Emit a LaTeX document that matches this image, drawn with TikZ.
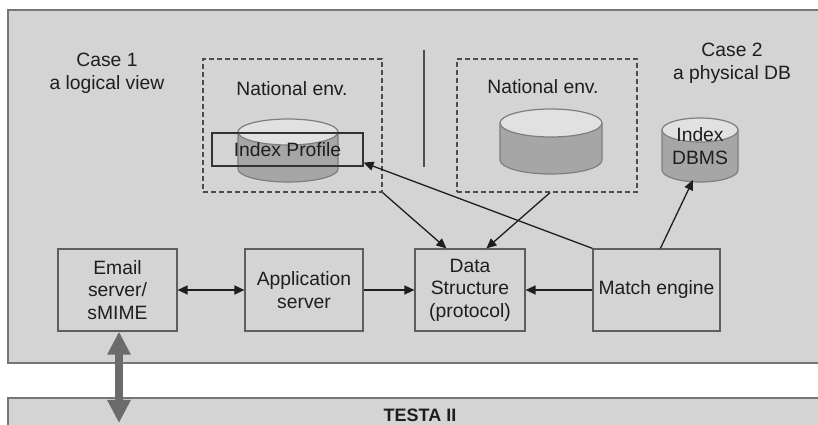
\documentclass[tikz,border=0pt]{standalone}
\usepackage{fontspec}
\setmainfont{Liberation Sans}
\usetikzlibrary{arrows.meta,calc}
\definecolor{bgfill}{HTML}{D4D4D4}
\definecolor{framec}{HTML}{767676}
\definecolor{boxc}{HTML}{5E5E5E}
\definecolor{txtc}{HTML}{1E1E1E}
\definecolor{cylside}{HTML}{A6A6A6}
\definecolor{cyltop}{HTML}{E1E1E1}
\definecolor{cylline}{HTML}{7E7E7E}
\definecolor{bigarrow}{HTML}{6B6B6B}
\newcommand{\mycyl}[5]{% cx, ytop, ybottom, rx, ry
  \fill[cylside] (#1-#4,#2) -- (#1-#4,#3) arc[start angle=180,end angle=360,x radius=#4pt,y radius=#5pt] -- (#1+#4,#2) -- cycle;
  \draw[cylline,line width=1.2pt] (#1-#4,#2) -- (#1-#4,#3) arc[start angle=180,end angle=360,x radius=#4pt,y radius=#5pt] -- (#1+#4,#2);
  \filldraw[fill=cyltop,draw=cylline,line width=1.2pt] (#1,#2) ellipse[x radius=#4pt,y radius=#5pt];
}
\tikzset{
  txt/.style={text=txtc,align=center,inner sep=0pt},
  procbox/.style={draw=boxc,line width=1.2pt,txt,minimum height=82pt},
  envbox/.style={draw=black!70,dashed,dash pattern=on 5pt off 3pt,line width=1.3pt,minimum width=179pt,minimum height=133pt},
  conn/.style={draw=txtc,line width=1.3pt,-{Triangle[length=10pt,width=9pt]}},
  biconn/.style={draw=txtc,line width=1.3pt,{Triangle[length=10pt,width=9pt]}-{Triangle[length=10pt,width=9pt]}},
}
\begin{document}
\begin{tikzpicture}[x=1pt,y=1pt,font=\fontsize{19.3}{22.5}\selectfont]
\useasboundingbox (0,0) rectangle (818,425);
\clip (0,0) rectangle (818,425);
\fill[white] (0,0) rectangle (818,425);
% outer frame and TESTA bar
\filldraw[fill=bgfill,draw=framec,line width=1.6pt] (8,62) rectangle (840,415);
\filldraw[fill=bgfill,draw=framec,line width=1.6pt] (8,27) rectangle (840,-10);
\node[txt,font=\fontsize{18}{20}\selectfont\bfseries] (testa) at (420,10) {TESTA II};
\coordinate (testaend) at (119,2);
% case labels
\node[txt] (case1) at (107,351.5) {Case 1\\a logical view};
\node[txt] (case2) at (732,361.5) {Case 2\\a physical DB};
% separator
\draw[black!70,line width=1.5pt] (424,375) -- (424,258);
% national environments
\node[envbox] (env1) at (292.5,299.5) {};
\node[envbox,minimum width=180pt] (env2) at (547,299.5) {};
\node[txt] (nat1) at (292,336) {National env.};
\node[txt] (nat2) at (543,338) {National env.};
% cylinders
\mycyl{288}{293}{256}{50}{13}
\mycyl{551}{302}{265}{51}{14}
\mycyl{700}{295}{255}{38}{12}
\node[txt] (dbms) at (700,279) {Index\\DBMS};
\coordinate (dbmsbot) at (693,245);
\node[draw=black!80,line width=1.2pt,minimum width=151pt,minimum height=33pt,txt] (ip) at (287.5,275.5) {Index Profile};
% process boxes
\node[procbox,minimum width=119pt] (email) at (117.5,135) {Email\\server/\\sMIME};
\node[procbox,minimum width=118pt] (app) at (304,135) {Application\\server};
\node[procbox,minimum width=110pt] (ds) at (470,135) {Data\\Structure\\(protocol)};
\node[procbox,minimum width=127pt] (match) at (656.5,135) {Match engine};
% connectors
\draw[biconn] (email) -- (app);
\draw[conn] (app) -- (ds);
\draw[conn] (match) -- (ds);
\draw[conn] (env1.south east) -- ([xshift=32pt]ds.north west);
\draw[conn] ([xshift=3pt]env2.south) -- ([xshift=72pt]ds.north west);
\draw[conn] (match.north west) -- ([yshift=4pt]ip.south east);
\draw[conn] ([xshift=68pt]match.north west) -- (dbmsbot);
% thick double arrow to TESTA
\draw[bigarrow,line width=8pt,{Triangle[length=23pt,width=22pt]}-{Triangle[length=23pt,width=22pt]}] ([xshift=1.5pt]email.south) -- (testaend);
\end{tikzpicture}
\end{document}
